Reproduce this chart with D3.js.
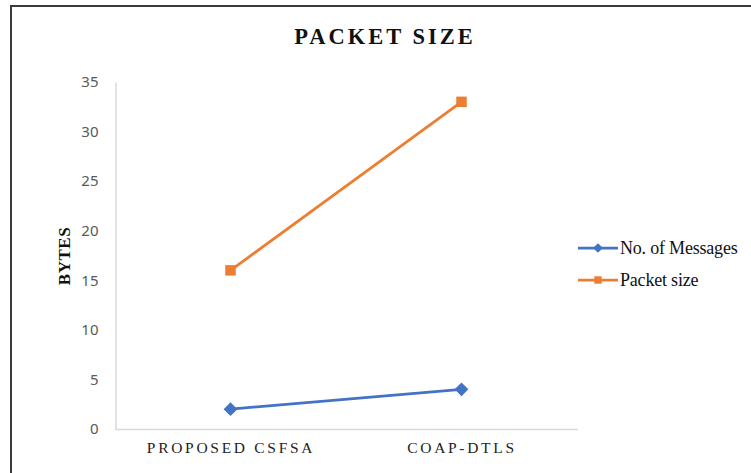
<!DOCTYPE html>
<html>
<head>
<meta charset="utf-8">
<script src="https://cdn.jsdelivr.net/npm/d3@7/dist/d3.min.js"></script>
<style>
  html, body { margin: 0; padding: 0; background: #fff; }
  svg { display: block; }
</style>
</head>
<body>
<svg id="chart" width="751" height="473"></svg>
<script>
// Chart data
const categories = ["PROPOSED CSFSA", "COAP-DTLS"];
const seriesNames = ["No. of Messages", "Packet size"];
const messagesValues = [2, 4];
const packetSizeValues = [16, 33];
const yTicks = [0, 5, 10, 15, 20, 25, 30, 35];

const series = [
  { name: seriesNames[0], values: messagesValues, color: "#4472C4", marker: d3.symbolDiamond2 },
  { name: seriesNames[1], values: packetSizeValues, color: "#ED7D31", marker: d3.symbolSquare }
];

const svg = d3.select("#chart");
const W = 751, H = 473;

// Outer frame
svg.append("rect")
  .attr("x", 11).attr("y", 6)
  .attr("width", W + 10).attr("height", H + 10)
  .attr("fill", "#fff")
  .attr("stroke", "#3a3a3a")
  .attr("stroke-width", 2);

const plot = { left: 115, right: 577, top: 82, bottom: 429 };

const x = d3.scalePoint()
  .domain(categories)
  .range([plot.left, plot.right])
  .padding(0.5);

const y = d3.scaleLinear()
  .domain([0, 35])
  .range([plot.bottom, plot.top]);

// Title
svg.append("text")
  .attr("x", 385).attr("y", 44)
  .attr("text-anchor", "middle")
  .attr("font-family", "'Liberation Serif', 'Times New Roman', serif")
  .attr("font-weight", "bold")
  .attr("font-size", 22.5)
  .attr("letter-spacing", 3)
  .attr("fill", "#111")
  .text("PACKET SIZE");

// Y axis
const yAxis = svg.append("g")
  .attr("transform", `translate(${plot.left + 0.5},0)`)
  .call(d3.axisLeft(y).tickValues(yTicks).tickSize(0).tickPadding(17));
yAxis.select(".domain").attr("stroke", "#d9d9d9").attr("stroke-width", 1.5);
yAxis.selectAll("text")
  .attr("font-family", "'Noto Sans', 'Liberation Sans', sans-serif")
  .attr("font-size", 15)
  .attr("fill", "#595959");

// X axis
const xAxis = svg.append("g")
  .attr("transform", `translate(0,${plot.bottom + 0.5})`)
  .call(d3.axisBottom(x).tickSize(0).tickPadding(12));
xAxis.select(".domain")
  .attr("d", `M${plot.left},0H${plot.right + 1}`)
  .attr("stroke", "#d9d9d9").attr("stroke-width", 1.5);
xAxis.selectAll("text")
  .attr("font-family", "'Liberation Serif', 'Times New Roman', serif")
  .attr("font-size", 15.5)
  .attr("letter-spacing", 2.7)
  .attr("fill", "#222");

// Y axis title
svg.append("text")
  .attr("transform", "translate(70,256) rotate(-90)")
  .attr("text-anchor", "middle")
  .attr("font-family", "'Liberation Serif', 'Times New Roman', serif")
  .attr("font-weight", "bold")
  .attr("font-size", 17)
  .attr("letter-spacing", 0.5)
  .attr("fill", "#111")
  .text("BYTES");

// Lines and markers
const line = d3.line()
  .x((d, i) => x(categories[i]))
  .y(d => y(d));

series.forEach(s => {
  svg.append("path")
    .datum(s.values)
    .attr("d", line)
    .attr("fill", "none")
    .attr("stroke", s.color)
    .attr("stroke-width", 2.75);
  svg.selectAll(null)
    .data(s.values)
    .enter().append("path")
    .attr("transform", (d, i) => `translate(${x(categories[i])},${y(d)})`)
    .attr("d", d3.symbol().type(s.marker).size(s.marker === d3.symbolSquare ? 110 : 120))
    .attr("fill", s.color);
});

// Legend
const legend = svg.append("g").attr("transform", "translate(578,248)");
series.forEach((s, i) => {
  const g = legend.append("g").attr("transform", `translate(0,${i * 32})`);
  g.append("line")
    .attr("x1", 0).attr("x2", 40).attr("y1", 0).attr("y2", 0)
    .attr("stroke", s.color).attr("stroke-width", 2.75);
  g.append("path")
    .attr("transform", "translate(20,0)")
    .attr("d", d3.symbol().type(s.marker).size(s.marker === d3.symbolSquare ? 55 : 60))
    .attr("fill", s.color);
  g.append("text")
    .attr("x", 42).attr("y", 0)
    .attr("dy", "0.35em")
    .attr("font-family", "'Liberation Serif', 'Times New Roman', serif")
    .attr("font-size", 18)
    .attr("letter-spacing", -0.2)
    .attr("fill", "#111")
    .text(s.name);
});
</script>
</body>
</html>
